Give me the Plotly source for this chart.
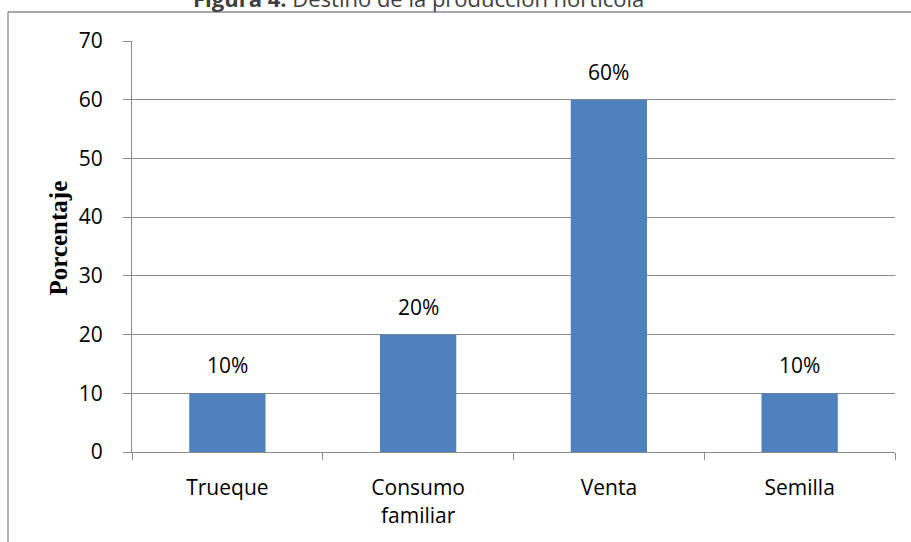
import plotly.graph_objects as go

categories = ["Trueque", "Consumo<br>familiar", "Venta", "Semilla"]
values = [10, 20, 60, 10]
y_ticks = [0, 10, 20, 30, 40, 50, 60, 70]

BAR = "#4F81BD"
GRID = "#8C8C8C"
FONT = "Open Sans"

W, H = 911, 542
L, R, T, B = 132, 16, 41, 90
pw, ph = W - L - R, H - T - B

def px_x(x):
    return (x - L) / pw

def px_y(y):
    return (H - B - y) / ph

fig = go.Figure(go.Bar(
    x=categories, y=values, marker=dict(color=BAR, line=dict(width=0)),
    width=0.4,
))

# percentage labels above each bar
for c, v in zip(categories, values):
    fig.add_annotation(x=c, y=v, text=f"{v}%", showarrow=False,
                       yanchor="middle", yshift=28,
                       font=dict(family=FONT, size=21, color="#000"))

# chart title (partly above the frame)
fig.add_annotation(xref="paper", yref="paper", x=px_x(418), y=px_y(-2),
                   text="<b>Figura 4.</b> Destino de la producción hortícola",
                   showarrow=False, xanchor="center", yanchor="middle",
                   font=dict(family=FONT, size=22, color="#404040"))

# y-axis title
fig.add_annotation(xref="paper", yref="paper", x=px_x(58), y=px_y(238.5),
                   text="<b>Porcentaje</b>", textangle=-90, showarrow=False,
                   xanchor="center", yanchor="middle",
                   font=dict(family="Liberation Serif", size=25, color="#000"))

# outer chart frame (left and top edges)
fig.add_shape(type="line", xref="paper", yref="paper",
              x0=px_x(8), x1=px_x(8), y0=px_y(12), y1=px_y(560),
              line=dict(color=GRID, width=1.3))
fig.add_shape(type="line", xref="paper", yref="paper",
              x0=px_x(8), x1=px_x(930), y0=px_y(12), y1=px_y(12),
              line=dict(color=GRID, width=1.3))

fig.update_layout(
    width=W, height=H, margin=dict(l=L, r=R, t=T, b=B),
    plot_bgcolor="white", paper_bgcolor="white", showlegend=False,
    font=dict(family=FONT, size=21, color="#000"),
    bargap=0.6,
)
fig.update_xaxes(
    showgrid=False, showline=True, linecolor=GRID, linewidth=1.3,
    ticks="outside", ticklen=7, tickcolor=GRID, tickwidth=1.3,
    tickson="boundaries", ticklabelstandoff=17,
    tickfont=dict(family=FONT, size=21, color="#000"),
)
fig.update_yaxes(
    range=[0, 70], tickvals=y_ticks, showgrid=True, gridcolor=GRID,
    gridwidth=1.3, showline=True, linecolor=GRID, linewidth=1.3,
    ticks="outside", ticklen=8, tickcolor=GRID, tickwidth=1.3,
    ticklabelstandoff=16, zeroline=False,
    tickfont=dict(family=FONT, size=21, color="#000"),
)

fig.write_html("out.html")
